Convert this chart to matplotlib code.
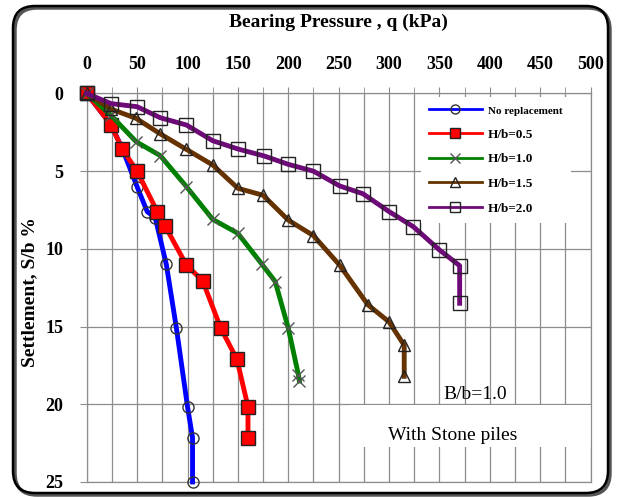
import matplotlib.pyplot as plt
from matplotlib.patches import FancyBboxPatch, Rectangle
from matplotlib.ticker import MultipleLocator

# pressure q (kPa) vs settlement S/b (%) for each case
q_none = [0, 24, 35, 50, 60, 68, 79, 89, 100, 105, 105]
s_none = [0, 2.0, 3.5, 6.0, 7.6, 8.0, 11.0, 15.1, 20.15, 22.15, 25.0]

q_h05 = [0, 24, 35, 50, 70, 78, 99, 115, 133, 149, 160, 160]
s_h05 = [0, 2.0, 3.55, 5.0, 7.6, 8.55, 11.05, 12.05, 15.1, 17.1, 20.15, 22.15]

q_h10 = [0, 24, 49, 73, 99, 125, 150, 174, 187, 200, 210, 211]
s_h10 = [0, 1.4, 3.1, 4.0, 6.0, 8.1, 9.0, 11.0, 12.1, 15.1, 18.1, 18.5]

q_h15 = [0, 24, 49, 73, 99, 125, 150, 175, 200, 225, 251, 279, 300, 315, 315]
s_h15 = [0, 1.0, 1.6, 2.6, 3.6, 4.6, 6.1, 6.55, 8.15, 9.15, 11.05, 13.6, 14.7, 16.2, 18.2]

q_h20 = [0, 24, 50, 73, 99, 125, 150, 176, 200, 225, 251, 274, 300, 324, 350, 370, 370]
s_h20 = [0, 0.65, 0.85, 1.56, 2.03, 3.04, 3.57, 4.02, 4.56, 5.0, 5.95, 6.45, 7.6, 8.57, 10.07, 11.08, 13.5]

labels = ["No replacement", "H/b=0.5", "H/b=1.0", "H/b=1.5", "H/b=2.0"]

serif = "Liberation Serif"
grid_col = "#8c8c8c"

fig = plt.figure(figsize=(6.18, 4.97), dpi=100)
ax = fig.add_axes([0.1403, 0.0302, 0.8155, 0.7817])

# rounded frame round the whole chart
shadow = FancyBboxPatch((15, 2), 595, 487, boxstyle="round,pad=0,rounding_size=22",
                        transform=None, fill=False, edgecolor="#555555", linewidth=2.5, zorder=-2)
frame = FancyBboxPatch((13, 4), 595, 487, boxstyle="round,pad=0,rounding_size=22",
                       transform=None, fill=False, edgecolor="black", linewidth=1.8, zorder=-1)
fig.patches.extend([shadow, frame])

ax.plot(q_none, s_none, color="#0000ff", lw=3.5, marker="o", ms=8, mfc="none",
        mec="#333333", mew=1.0, label=labels[0], clip_on=False, zorder=3)
ax.plot(q_h05, s_h05, color="#ff0000", lw=3.5, marker="s", ms=9.5, mfc="#ff0000",
        mec="#222222", mew=1.0, label=labels[1], clip_on=False, zorder=3)
ax.plot(q_h10, s_h10, color="#008000", lw=3.5, marker="x", ms=8, mec="#555555",
        mew=1.0, label=labels[2], clip_on=False, zorder=3)
ax.plot(q_h15, s_h15, color="#663300", lw=3.5, marker="^", ms=9, mfc="none",
        mec="#222222", mew=1.0, label=labels[3], clip_on=False, zorder=3)
ax.plot(q_h20, s_h20, color="#6e0a78", lw=3.5, marker="s", ms=10, mfc="none",
        mec="#222222", mew=1.0, label=labels[4], clip_on=False, zorder=3)

ax.set_xlim(0, 500)
ax.set_ylim(25, 0)
ax.xaxis.tick_top()
ax.xaxis.set_major_locator(MultipleLocator(50))
ax.xaxis.set_minor_locator(MultipleLocator(25))
ax.yaxis.set_major_locator(MultipleLocator(5))
ax.grid(True, which="both", axis="x", color=grid_col, lw=0.9)
ax.grid(True, which="major", axis="y", color=grid_col, lw=0.9)
ax.set_axisbelow(True)
for sp in ax.spines.values():
    sp.set_color(grid_col)
    sp.set_linewidth(0.9)

ax.tick_params(axis="x", which="both", direction="out", length=4, color=grid_col, pad=11)
ax.tick_params(axis="y", direction="out", length=5, color=grid_col, pad=12)
for t in ax.get_xticklabels() + ax.get_yticklabels():
    t.set_fontfamily(serif)
    t.set_fontweight("bold")
    t.set_fontsize(13)

fig.text(338 / 618, 1 - 22 / 497, "Bearing Pressure , q (kPa)", family=serif,
         weight="bold", fontsize=14, ha="center", va="center")
fig.text(30 / 618, 1 - 292 / 497, "Settlement, S/b %", family=serif, weight="bold",
         fontsize=14, rotation=90, ha="center", va="center")

# white patch behind the note
ax.add_patch(Rectangle((0.522, 0.09), 0.478, 0.108, transform=ax.transAxes,
                       facecolor="white", edgecolor="none", zorder=1))
ax.text(385, 19.4, "B/b=1.0", family=serif, fontsize=14, ha="center", va="center", zorder=4)
ax.text(363, 22.0, "With Stone piles", family=serif, fontsize=14, ha="center", va="center", zorder=4)

leg = ax.legend(loc="upper left", bbox_to_anchor=(0.663, 0.992), frameon=True,
                facecolor="white", edgecolor="none", framealpha=1, fancybox=False,
                prop={"family": serif, "weight": "bold", "size": 9.5},
                handlelength=4.0, handletextpad=0.5, labelspacing=0.95,
                borderpad=0.6, borderaxespad=0)
leg.get_texts()[0].set_fontsize(8)
for h in leg.legend_handles:
    h.set_markersize(6.5)
    h.set_linewidth(2)

fig.savefig("out.png", dpi=100)
